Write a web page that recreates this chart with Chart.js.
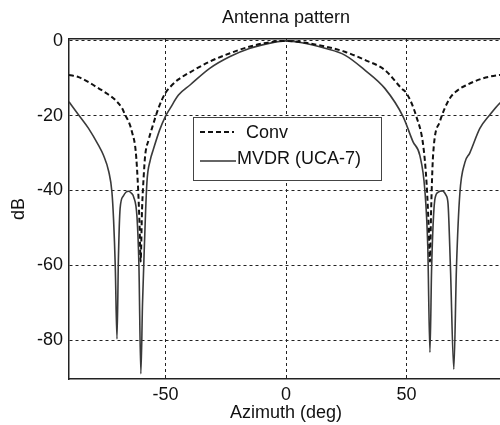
<!DOCTYPE html>
<html>
<head>
<meta charset="utf-8">
<script src="https://cdn.jsdelivr.net/npm/chart.js@4/dist/chart.umd.min.js"></script>
<style>
  html, body { margin: 0; padding: 0; background: #fff; overflow: hidden; }
  #wrap { position: absolute; left: 0; top: 0; width: 510px; height: 425px; }
</style>
</head>
<body>
<div id="wrap"><canvas id="patternChart"></canvas></div>
<script>
// Conventional beamformer (dashed)
const convAz = [-90, -86, -82, -77.7, -74, -70.8, -68, -66.7, -65, -63.9, -62.3, -61.3, -60.7, -60.3,
  -59.7, -59, -58.4, -57, -55.6, -52.9, -50.1, -48, -44.6, -39.8, -31.5, -23.2, -14.9, -6.6, 0,
  6.6, 16.2, 24.4, 32.7, 41, 47.9, 50, 54.1, 56.9, 58.3, 59.2, 59.7, 60.2, 61, 63.8, 67.9, 71, 74.9, 81.7, 88.6, 90];
const convDb = [-9.1, -9.7, -11, -12.7, -14.2, -15.8, -18, -19.8, -22, -24.3, -29.7, -40, -50, -59,
  -45, -36, -30.6, -26.5, -23.4, -18, -14, -12.3, -10.3, -8.4, -5.5, -3.3, -1.5, -0.35, 0,
  -0.35, -1.5, -2.9, -5.1, -7.8, -12.7, -14, -20.3, -27.9, -38, -50, -59, -45, -30.6, -21.6, -15.4, -13.3, -11.8, -10, -9.1, -9];

// MVDR (UCA-7) (solid)
const mvdrAz = [-90, -86, -81.9, -77.8, -75.7, -73.5, -72.2, -71.5, -70.8, -70.1, -69.5, -68.8, -67.5, -66.3,
  -65.3, -64, -63.2, -61.8, -61, -60.2, -59.5, -58.8, -57.7, -56.3, -55, -52.5, -50.1, -48, -44.6, -39.8,
  -31.5, -23.2, -14.9, -6.6, 0, 6.6, 16.2, 24.4, 32.7, 41, 48.6, 52.7, 55.5, 57.6, 58.8, 59.7, 60.4,
  61.7, 63, 64.9, 66.3, 67.2, 68.2, 69.6, 70.7, 72.1, 74.2, 76.2, 80.4, 84.5, 88.6, 90];
const mvdrDb = [-16.3, -19.8, -23.4, -27.9, -30.6, -35, -40.4, -48, -60.5, -79.7, -58, -44.8, -41.5, -40.4,
  -40.2, -40.8, -41.7, -47.1, -60, -89, -70, -56, -38, -31.9, -29, -24, -20.3, -18, -14.5, -11.8,
  -7.3, -4.2, -2, -0.6, 0, -0.5, -2, -3.8, -7.8, -12.7, -20.3, -27, -30.6, -40, -55, -83.3, -60.5,
  -42.6, -40.5, -40.1, -41.2, -43.5, -60.5, -87.8, -60.5, -40.8, -32.5, -30, -23.4, -19.8, -16.7, -16];

const xTicks = [-50, 0, 50];
const yTicks = [0, -20, -40, -60, -80];
const seriesNames = ["Conv", "MVDR (UCA-7)"];

const FONT = "'Liberation Sans', Arial, Helvetica, sans-serif";
const toPts = (xs, ys) => xs.map((x, i) => ({ x: x, y: ys[i] }));

// legend drawn inside the plot, like the original
const boxLegend = {
  id: "boxLegend",
  afterDatasetsDraw(chart) {
    const ctx = chart.ctx;
    const bx = 193, by = 117, bw = 188, bh = 63;
    ctx.save();
    ctx.fillStyle = "#fff";
    ctx.fillRect(bx, by, bw, bh);
    ctx.strokeStyle = "#444";
    ctx.lineWidth = 1;
    ctx.strokeRect(bx + 0.5, by + 0.5, bw, bh);

    ctx.strokeStyle = "#111";
    ctx.lineWidth = 2;
    ctx.setLineDash([5, 3]);
    ctx.beginPath(); ctx.moveTo(200, 132); ctx.lineTo(234, 132); ctx.stroke();
    ctx.setLineDash([]);
    ctx.strokeStyle = "#333";
    ctx.lineWidth = 1.5;
    ctx.beginPath(); ctx.moveTo(200, 161); ctx.lineTo(236, 161); ctx.stroke();

    ctx.fillStyle = "#111";
    ctx.font = "18px " + FONT;
    ctx.textBaseline = "middle";
    ctx.fillText(seriesNames[0], 246, 133);
    ctx.fillText(seriesNames[1], 237, 159);
    ctx.restore();
  }
};

const ctx = document.getElementById("patternChart").getContext("2d");
new Chart(ctx, {
  type: "line",
  data: {
    datasets: [
      {
        label: seriesNames[0],
        data: toPts(convAz, convDb),
        borderColor: "#111",
        borderWidth: 2,
        borderDash: [5, 3],
        pointRadius: 0,
        cubicInterpolationMode: "monotone",
        fill: false
      },
      {
        label: seriesNames[1],
        data: toPts(mvdrAz, mvdrDb),
        borderColor: "#3a3a3a",
        borderWidth: 1.6,
        pointRadius: 0,
        cubicInterpolationMode: "monotone",
        fill: false
      }
    ]
  },
  options: {
    responsive: true,
    maintainAspectRatio: false,
    animation: false,
    layout: { padding: { left: 0, right: 7, top: 0, bottom: 0 } },
    plugins: {
      legend: { display: false },
      tooltip: { enabled: false }
    },
    scales: {
      x: {
        type: "linear",
        position: "bottom",
        min: -90,
        max: 90,
        afterBuildTicks: s => { s.ticks = xTicks.map(v => ({ value: v })); },
        afterFit: s => { s.height = 46; },
        ticks: { color: "#111", font: { family: FONT, size: 18 }, padding: 5, maxRotation: 0 },
        grid: { color: "#222", lineWidth: 1, drawTicks: false },
        border: { display: true, color: "#222", width: 1.5, dash: [3, 3] },
        title: { display: true, text: "Azimuth (deg)", color: "#111", font: { family: FONT, size: 18 }, padding: { top: 0, bottom: 1 } }
      },
      xTop: {
        type: "linear",
        position: "top",
        min: -90,
        max: 90,
        afterFit: s => { s.height = 39; },
        ticks: { display: false },
        grid: { display: false, drawTicks: false },
        border: { display: true, color: "#222", width: 1.5 },
        title: { display: true, text: "Antenna pattern", color: "#111", font: { family: FONT, size: 18 }, padding: { top: 7, bottom: 0 } }
      },
      y: {
        type: "linear",
        min: -90.4,
        max: 0.5,
        afterBuildTicks: s => { s.ticks = yTicks.map(v => ({ value: v })); },
        afterFit: s => { s.width = 69; },
        ticks: { color: "#111", font: { family: FONT, size: 18 }, padding: 6 },
        grid: { color: "#222", lineWidth: 1, drawTicks: false },
        border: { display: true, color: "#222", width: 1.5, dash: [3, 3] },
        title: { display: true, text: "dB", color: "#111", font: { family: FONT, size: 18 }, padding: { top: 8, bottom: 0 } }
      }
    }
  },
  plugins: [boxLegend]
});
</script>
</body>
</html>
